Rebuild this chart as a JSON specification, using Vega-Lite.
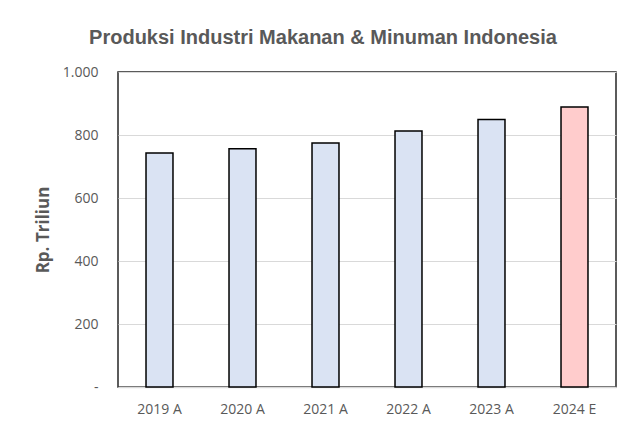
{
  "$schema": "https://vega.github.io/schema/vega-lite/v6.json",
  "width": 498,
  "height": 315,
  "autosize": {"type": "none"},
  "padding": {"left": 118, "top": 72, "right": 13, "bottom": 40},
  "background": "white",
  "title": {
    "text": "Produksi Industri Makanan & Minuman Indonesia",
    "font": "Liberation Sans",
    "fontSize": 20,
    "fontWeight": "bold",
    "color": "#595959",
    "anchor": "middle",
    "frame": "group",
    "dx": -44,
    "offset": 17
  },
  "data": {
    "values": [
      {"year": "2019 A", "value": 743, "type": "A"},
      {"year": "2020 A", "value": 756, "type": "A"},
      {"year": "2021 A", "value": 775, "type": "A"},
      {"year": "2022 A", "value": 813, "type": "A"},
      {"year": "2023 A", "value": 849, "type": "A"},
      {"year": "2024 E", "value": 889, "type": "E"}
    ]
  },
  "mark": {"type": "bar", "stroke": "black", "strokeWidth": 1.5},
  "encoding": {
    "x": {
      "field": "year",
      "type": "nominal",
      "sort": null,
      "scale": {"paddingInner": 0.675, "paddingOuter": 0.3375},
      "axis": {
        "title": null,
        "labelAngle": 0,
        "ticks": false,
        "domainColor": "#d9d9d9",
        "domainWidth": 1.5,
        "labelPadding": 15,
        "labelFont": "Open Sans",
        "labelFontSize": 14,
        "labelColor": "#595959"
      }
    },
    "y": {
      "field": "value",
      "type": "quantitative",
      "scale": {"domain": [0, 1000]},
      "axis": {
        "title": "Rp. Triliun",
        "titleFont": "Open Sans",
        "titleFontSize": 17,
        "titleFontWeight": "bold",
        "titleColor": "#595959",
        "titlePadding": 10,
        "values": [0, 200, 400, 600, 800, 1000],
        "labelExpr": "datum.value == 0 ? '-' : replace(format(datum.value, ','), ',', '.')",
        "ticks": false,
        "domain": false,
        "grid": true,
        "gridColor": "#d9d9d9",
        "gridWidth": 1,
        "labelPadding": 20,
        "labelFont": "Open Sans",
        "labelFontSize": 14,
        "labelColor": "#595959"
      }
    },
    "color": {
      "field": "type",
      "type": "nominal",
      "scale": {"domain": ["A", "E"], "range": ["#dae3f3", "#ffcccc"]},
      "legend": null
    }
  },
  "config": {
    "view": {"stroke": "#262626", "strokeWidth": 1.5}
  }
}
